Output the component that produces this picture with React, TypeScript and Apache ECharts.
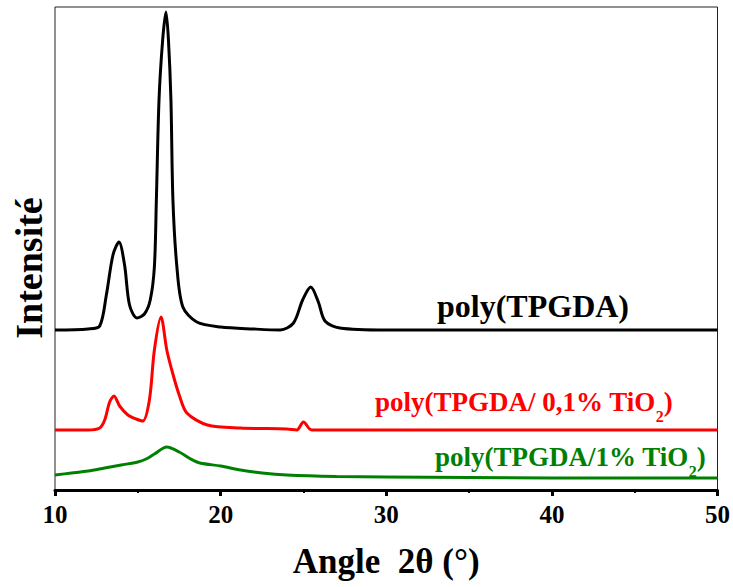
import React, { useEffect, useRef } from "react";
import * as echarts from "echarts";

// Angle 2θ (°) values and curve heights (intensity, arbitrary units, offset stacked)
const blackX = [10, 12, 12.7, 13.1, 13.5, 13.86, 14.2, 14.5, 14.95, 15.4, 15.75, 16.0, 16.12, 16.28, 16.5, 16.7, 16.85, 17.0, 17.12, 17.36, 17.72, 18.56, 20, 22, 23.6, 24.4, 24.95, 25.44, 25.9, 26.3, 27.2, 30, 50];
const blackY = [160, 161, 164, 195, 235, 248, 225, 185, 172, 176, 190, 223, 290, 390, 450, 478, 450, 390, 290, 223, 183, 168, 163, 161, 160, 167, 190, 203, 188, 169, 162, 160, 160];

const redX = [10, 12, 12.7, 13.0, 13.3, 13.56, 13.9, 14.4, 14.9, 15.3, 15.7, 16.0, 16.4, 16.75, 17.1, 17.5, 17.96, 19.2, 21.2, 24.0, 24.6, 25.0, 25.5, 30, 50];
const redY = [60, 60, 62, 70, 88, 94, 84, 75, 71, 69, 90, 140, 173, 140, 117, 95, 77, 65, 62, 61, 60, 68, 60, 60, 60];

const greenX = [10, 11, 12, 13, 14, 15, 15.5, 16, 16.75, 17.5, 18.2, 18.75, 20, 21.2, 22.5, 24, 27, 30, 35, 40, 50];
const greenY = [15, 17, 19, 22, 25, 28, 31, 36, 43, 38, 31, 27, 24, 20, 17, 15, 13.5, 13, 12.5, 12, 12];

const xTicks = [10, 20, 30, 40, 50];

const labelBlack = "poly(TPGDA)";
const labelRed = "poly(TPGDA/ 0,1% TiO{s|2})";
const labelGreen = "poly(TPGDA/1% TiO{s|2})";
const xName = "Angle  2θ (°)";
const yName = "Intensité";

const FONT = "Liberation Serif";

function pairs(xs: number[], ys: number[]) {
  return xs.map((x, i) => [x, ys[i]]);
}

export default function App() {
  const ref = useRef<HTMLDivElement>(null);
  useEffect(() => {
    if (!ref.current) return;
    const chart = echarts.init(ref.current, null, { renderer: "svg" });
    const lineSeries = (name: string, xs: number[], ys: number[], color: string) => ({
      type: "line",
      name,
      data: pairs(xs, ys),
      showSymbol: false,
      smooth: 0.3,
      lineStyle: { color, width: 3 },
      itemStyle: { color },
      z: 3,
    });
    chart.setOption({
      animation: false,
      backgroundColor: "#ffffff",
      grid: {
        left: 55,
        right: 15,
        top: 7,
        bottom: 97,
        show: true,
        borderColor: "#222",
        borderWidth: 1,
        backgroundColor: "transparent",
      },
      xAxis: {
        type: "value",
        min: 10,
        max: 50,
        interval: 10,
        name: xName,
        nameLocation: "middle",
        nameGap: 54,
        nameTextStyle: { fontFamily: FONT, fontWeight: "bold", fontSize: 35, color: "#000" },
        axisLine: { show: true, onZero: false, lineStyle: { color: "#000", width: 3 } },
        axisTick: { show: true, length: 6, lineStyle: { color: "#000", width: 3 } },
        minorTick: { show: true, splitNumber: 2, length: 3, lineStyle: { color: "#000", width: 2 } },
        splitLine: { show: false },
        axisLabel: {
          fontFamily: FONT,
          fontWeight: "bold",
          fontSize: 25,
          color: "#000",
          margin: 12,
          formatter: (v: number) => (xTicks.includes(v) ? String(v) : ""),
        },
      },
      yAxis: {
        type: "value",
        min: 0,
        max: 483,
        axisLine: { show: false },
        axisTick: { show: false },
        axisLabel: { show: false },
        splitLine: { show: false },
      },
      graphic: [
        {
          type: "text",
          x: 29,
          y: 268,
          rotation: Math.PI / 2,
          style: {
            text: yName,
            fill: "#000",
            fontFamily: FONT,
            fontWeight: "bold",
            fontSize: 38,
            align: "center",
            verticalAlign: "middle",
          },
        },
        {
          type: "text",
          x: 437,
          y: 306,
          style: {
            text: labelBlack,
            fill: "#000",
            fontFamily: FONT,
            fontWeight: "bold",
            fontSize: 32,
            align: "left",
            verticalAlign: "middle",
          },
        },
        {
          type: "text",
          x: 375,
          y: 402,
          style: {
            text: labelRed,
            fill: "#ff0000",
            fontFamily: FONT,
            fontWeight: "bold",
            fontSize: 27,
            align: "left",
            verticalAlign: "middle",
            rich: { s: { fontFamily: FONT, fontWeight: "bold", fontSize: 16, fill: "#ff0000", padding: [28, 0, 0, 0] } },
          },
        },
        {
          type: "text",
          x: 435,
          y: 457,
          style: {
            text: labelGreen,
            fill: "#008000",
            fontFamily: FONT,
            fontWeight: "bold",
            fontSize: 27,
            align: "left",
            verticalAlign: "middle",
            rich: { s: { fontFamily: FONT, fontWeight: "bold", fontSize: 16, fill: "#008000", padding: [28, 0, 0, 0] } },
          },
        },
      ],
      series: [
        lineSeries("poly(TPGDA/1% TiO2)", greenX, greenY, "#008000"),
        lineSeries("poly(TPGDA/ 0,1% TiO2)", redX, redY, "#ff0000"),
        lineSeries("poly(TPGDA)", blackX, blackY, "#000000"),
      ],
    });
    return () => chart.dispose();
  }, []);
  return <div ref={ref} style={{ width: 733, height: 587, position: "absolute", left: 0, top: 0 }} />;
}
